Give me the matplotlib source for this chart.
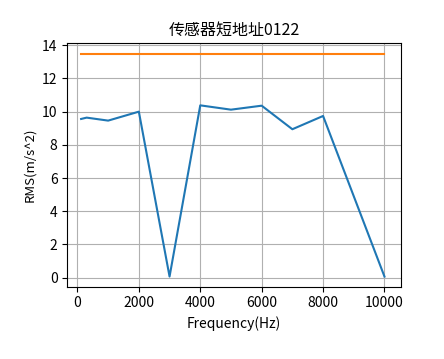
import matplotlib
matplotlib.use('Agg')
import matplotlib.pyplot as plt

plt.rcParams['font.family'] = ['Noto Sans CJK SC', 'DejaVu Sans']
plt.rcParams['axes.unicode_minus'] = False

# frequency bins and measured RMS
freq = [120, 300, 1000, 2000, 3000, 4000, 5000, 6000, 7000, 8000, 10000]
rms = [9.56, 9.64, 9.46, 10.0, 0.06, 10.38, 10.12, 10.36, 8.94, 9.74, 0.06]
# alarm threshold
limit_x = [120, 10000]
limit_y = [13.5, 13.5]

fig = plt.figure(figsize=(4.44, 3.59), dpi=100)
ax = fig.add_axes([0.1516, 0.2014, 0.751, 0.678])

ax.plot(freq, rms, color='#1f77b4', linewidth=1.5)
ax.plot(limit_x, limit_y, color='#ff7f0e', linewidth=1.5)

ax.set_xlim(-330, 10530)
ax.set_ylim(-0.55, 14.12)
ax.set_yticks(range(0, 15, 2))
ax.set_xticks(range(0, 10001, 2000))
ax.grid(True, color='#b0b0b0', linewidth=0.8)

ax.set_title('传感器短地址0122', fontsize=11.5)
ax.set_xlabel('Frequency(Hz)', fontsize=10)
ax.set_ylabel('RMS(m/s^2)', fontsize=9.5)
ax.tick_params(labelsize=10)

fig.savefig('out.png', dpi=100)
